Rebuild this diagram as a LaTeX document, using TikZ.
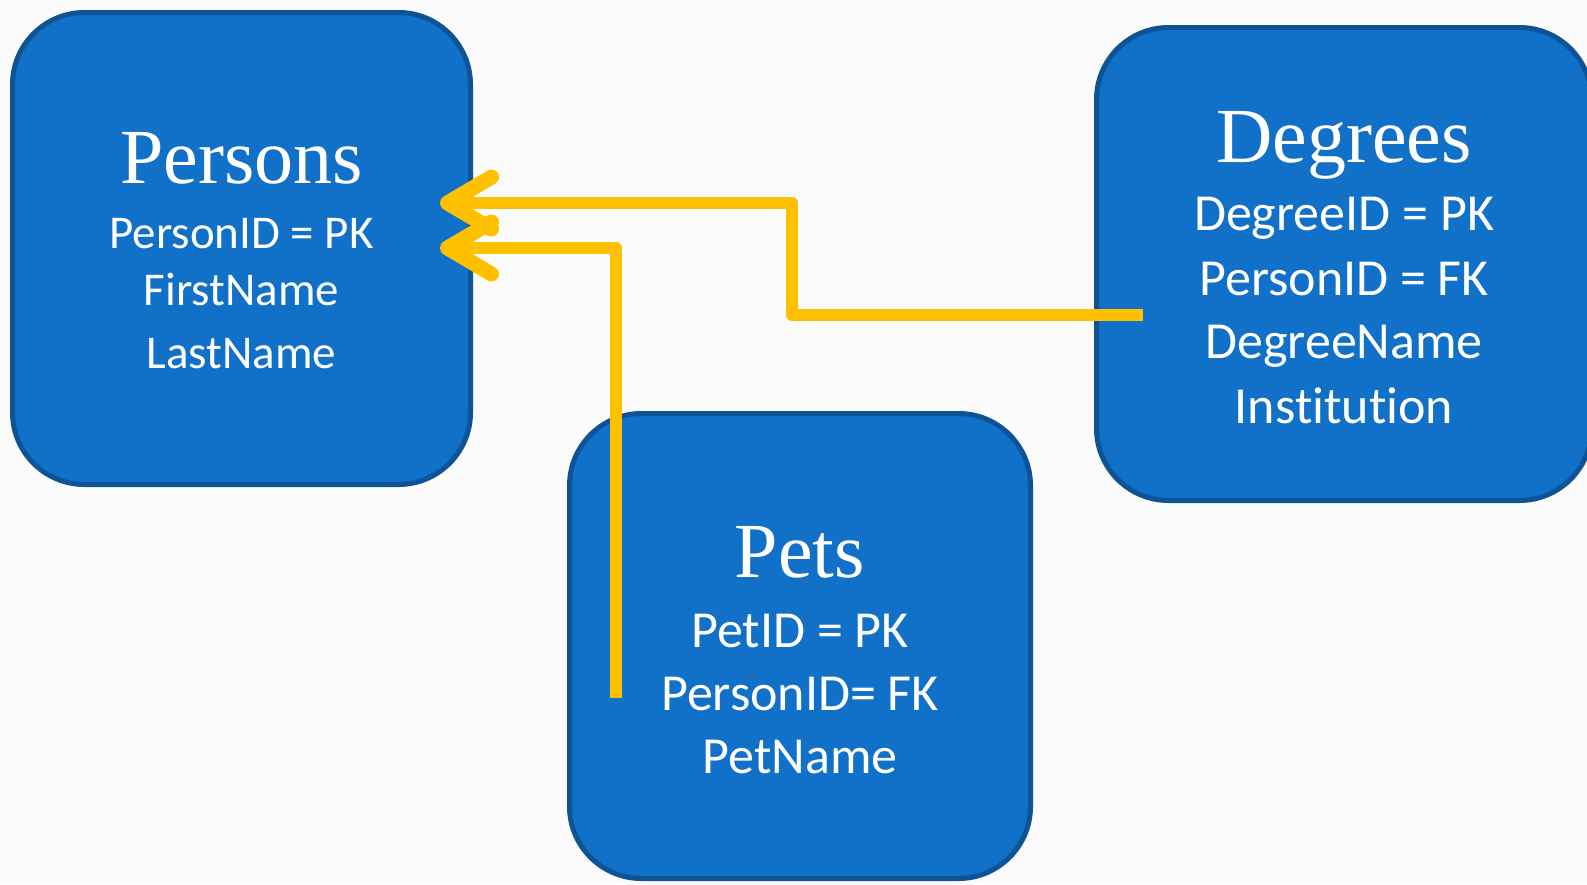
\documentclass[tikz,border=0pt]{standalone}
\usepackage{fontspec}
\setmainfont{Carlito}[Ligatures=NoCommon]
\newfontfamily\titlefont{Liberation Serif}
\usetikzlibrary{arrows.meta,positioning}

\definecolor{tableblue}{RGB}{17,112,199}
\definecolor{tableedge}{RGB}{14,83,150}
\definecolor{keyyellow}{RGB}{255,192,0}
\definecolor{paper}{RGB}{251,251,251}

\tikzset{
	tablebox/.style={draw=tableedge, line width=5pt, fill=tableblue, rounded corners=72pt, inner sep=0pt, outer sep=0pt},
	tabletitle/.style={text=white, anchor=base, inner sep=0pt, font=\titlefont\fontsize{78}{80}\selectfont},
	tablefield/.style={text=white, anchor=base, inner sep=0pt, font=\fontsize{52}{60}\selectfont},
	keylink/.style={draw=keyyellow, line width=12pt, line join=round, -{Straight Barb[length=44pt,width=52pt,line width=3pt 1,round]}}
}

\begin{document}
\begin{tikzpicture}[x=1pt,y=-1pt]
	\fill[paper] (0,0) rectangle (1587,884);
	\useasboundingbox (0,0) rectangle (1587,884);

	% tables
	\node[tablebox, minimum width=458pt, minimum height=472pt] (persons) at (241.5,248.5) {};
	\node[tablebox, minimum width=495pt, minimum height=473pt] (degrees) at (1344,264) {};
	\node[tablebox, minimum width=461pt, minimum height=465pt] (pets) at (800,646) {};

	\node[tabletitle] (persons-t) at (241.5,183) {Persons};
	\foreach \txt/\yy [count=\i] in {PersonID = PK/248, FirstName/305, LastName/368}
		\node[tablefield, font=\fontsize{47}{55}\selectfont] (persons-f\i) at (241.5,\yy) {\txt};

	\node[tabletitle] (degrees-t) at (1344,162) {Degrees};
	\foreach \txt/\yy [count=\i] in {DegreeID = PK/230, PersonID = FK/295, DegreeName/358, Institution/423}
		\node[tablefield] (degrees-f\i) at (1344,\yy) {\txt};

	\node[tabletitle] (pets-t) at (800,577) {Pets};
	\foreach \txt/\yy [count=\i] in {PetID = PK/647, PersonID= FK/710, PetName/773}
		\node[tablefield] (pets-f\i) at (800,\yy) {\txt};

	% keys
	\coordinate (deg-fk) at (1143,315);
	\coordinate (pet-fk) at (616,698);
	\coordinate (bend) at (792,315);
	\coordinate (per-pk1) at (440,203);
	\coordinate (per-pk2) at (440,248);

	\draw[keylink] (deg-fk) -- (bend) |- (per-pk1);
	\draw[keylink] (pet-fk) |- (per-pk2);
\end{tikzpicture}
\end{document}
